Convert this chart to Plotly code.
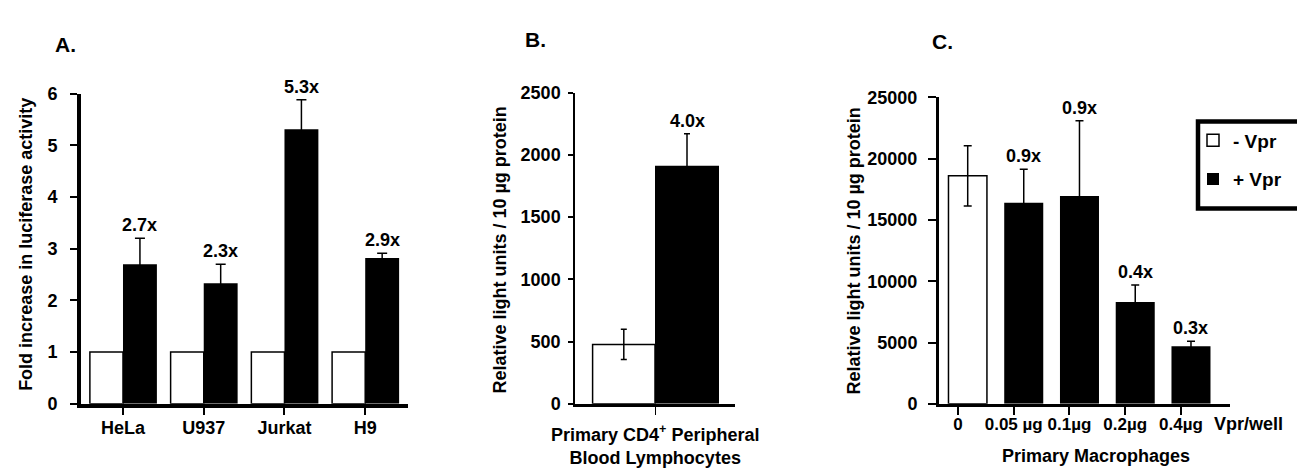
import plotly.graph_objects as go

# ---------------- data ----------------
# Panel A
cells = ["HeLa", "U937", "Jurkat", "H9"]
a_minus = [1.0, 1.0, 1.0, 1.0]
a_plus = [2.70, 2.33, 5.31, 2.82]
a_plus_err = [0.50, 0.37, 0.57, 0.09]
a_fold = ["2.7x", "2.3x", "5.3x", "2.9x"]
a_yticks = [0, 1, 2, 3, 4, 5, 6]

# Panel B
b_cat = ["PBL"]
b_minus = [477]
b_minus_err = [122]
b_plus = [1913]
b_plus_err = [256]
b_fold = ["4.0x"]
b_yticks = [0, 500, 1000, 1500, 2000, 2500]

# Panel C
c_cats = ["0", "0.05 µg", "0.1µg", "0.2µg", "0.4µg"]
c_minus_cat = ["0"]
c_minus = [18600]
c_minus_err = [2450]
c_plus_cat = ["0.05 µg", "0.1µg", "0.2µg", "0.4µg"]
c_plus = [16400, 16950, 8300, 4700]
c_plus_err = [2750, 6150, 1400, 400]
c_fold = ["0.9x", "0.9x", "0.4x", "0.3x"]
c_yticks = [0, 5000, 10000, 15000, 20000, 25000]
c_yticktext = ["0", "5000", "10000", "15000", "20000", "25000"]

legend_names = ["- Vpr", "+ Vpr"]

# ---------------- styling ----------------
W, H = 1305, 468
FONT = "Liberation Sans, Arial, Helvetica, sans-serif"
BLACK = "#000000"


def px(x):
    return x / W


def py(y):
    return 1 - y / H


def f(size):
    return dict(family=FONT, size=size, color=BLACK, weight="bold")


fig = go.Figure()

# ---- Panel A ----
fig.add_trace(go.Bar(x=cells, y=a_minus, width=0.41, offset=-0.41,
                     marker=dict(color="white", line=dict(color=BLACK, width=1.5)),
                     name=legend_names[0], legendgroup="m", showlegend=True,
                     xaxis="x", yaxis="y"))
fig.add_trace(go.Bar(x=cells, y=a_plus, width=0.42, offset=0.0,
                     marker=dict(color=BLACK, line=dict(color=BLACK, width=0)),
                     error_y=dict(type="data", array=a_plus_err, symmetric=True,
                                  color=BLACK, thickness=1.5, width=5),
                     name=legend_names[1], legendgroup="p", showlegend=True,
                     xaxis="x", yaxis="y"))

# ---- Panel B ----
fig.add_trace(go.Bar(x=b_cat, y=b_minus, width=0.39, offset=-0.39,
                     marker=dict(color="white", line=dict(color=BLACK, width=1.5)),
                     error_y=dict(type="data", array=b_minus_err, symmetric=True,
                                  color=BLACK, thickness=1.5, width=3),
                     showlegend=False, xaxis="x2", yaxis="y2"))
fig.add_trace(go.Bar(x=b_cat, y=b_plus, width=0.40, offset=0.0,
                     marker=dict(color=BLACK, line=dict(color=BLACK, width=0)),
                     error_y=dict(type="data", array=b_plus_err, symmetric=True,
                                  color=BLACK, thickness=1.5, width=3),
                     showlegend=False, xaxis="x2", yaxis="y2"))

# ---- Panel C ----
fig.add_trace(go.Bar(x=c_minus_cat, y=c_minus, width=0.69, offset=-0.17,
                     marker=dict(color="white", line=dict(color=BLACK, width=1.5)),
                     error_y=dict(type="data", array=c_minus_err, symmetric=True,
                                  color=BLACK, thickness=1.5, width=4),
                     showlegend=False, xaxis="x3", yaxis="y3"))
fig.add_trace(go.Bar(x=c_plus_cat, y=c_plus, width=0.70, offset=-0.17,
                     marker=dict(color=BLACK, line=dict(color=BLACK, width=0)),
                     error_y=dict(type="data", array=c_plus_err, symmetric=True,
                                  color=BLACK, thickness=1.5, width=4),
                     showlegend=False, xaxis="x3", yaxis="y3"))

# ---------------- axes ----------------
common_x = dict(showgrid=False, zeroline=False, ticks="outside", tickcolor=BLACK,
                linecolor=BLACK, showline=True, fixedrange=True)
common_y = dict(showgrid=False, zeroline=False, ticks="outside", tickcolor=BLACK,
                linecolor=BLACK, showline=True, fixedrange=True)

fig.update_layout(
    xaxis=dict(common_x, domain=[px(73), px(400)], anchor="y", type="category",
               categoryarray=cells, range=[-0.52, 3.53], linewidth=4, ticklen=7,
               tickwidth=1.5, tickfont=f(18), ticklabelstandoff=-2),
    yaxis=dict(common_y, domain=[py(403), py(79)], anchor="x", range=[0, 6],
               tickvals=a_yticks, linewidth=4, ticklen=7,
               tickwidth=1.5, tickfont=f(18), ticklabelstandoff=9),
    xaxis2=dict(common_x, domain=[px(567), px(727)], anchor="y2", type="category",
                range=[-0.5, 0.5], linewidth=3, ticklen=8, tickwidth=1,
                showticklabels=False),
    yaxis2=dict(common_y, domain=[py(403), py(78)], anchor="x2", range=[0, 2500],
                tickvals=b_yticks, linewidth=1.5, ticklen=5,
                tickwidth=1.5, tickfont=f(18), ticklabelstandoff=4),
    xaxis3=dict(common_x, domain=[px(931), px(1222)], anchor="y3", type="category",
                categoryarray=c_cats, range=[-0.34, 4.88], linewidth=3, ticklen=8,
                tickwidth=1.5, tickfont=f(17), ticklabelstandoff=-5),
    yaxis3=dict(common_y, domain=[py(403), py(83)], anchor="x3", range=[0, 25000],
                tickvals=c_yticks, ticktext=c_yticktext, linewidth=3, ticklen=8,
                tickwidth=1.5, tickfont=f(18), ticklabelstandoff=7),
)

# ---------------- annotations ----------------
ann = []
for i, (v, e, t) in enumerate(zip(a_plus, a_plus_err, a_fold)):
    ann.append(dict(x=i + 0.21, y=v + e, xref="x", yref="y", text=t, showarrow=False,
                    yanchor="bottom", yshift=1, font=f(18)))
ann.append(dict(x=0.2, y=b_plus[0] + b_plus_err[0], xref="x2", yref="y2", text=b_fold[0],
                showarrow=False, yanchor="bottom", yshift=1, font=f(18)))
for i, (v, e, t) in enumerate(zip(c_plus, c_plus_err, c_fold)):
    ann.append(dict(x=i + 1 + 0.18, y=v + e, xref="x3", yref="y3", text=t, showarrow=False,
                    yanchor="bottom", yshift=1, font=f(18)))

for txt, x, y in [("A.", 57, 28), ("B.", 527, 22), ("C.", 934, 25)]:
    ann.append(dict(x=px(x), y=py(y), xref="paper", yref="paper", text=txt,
                    showarrow=False, xanchor="center", yanchor="middle", font=f(21)))

ann.append(dict(x=px(18), y=py(237), xref="paper", yref="paper",
                text="Fold increase in luciferase activity", textangle=-90,
                showarrow=False, xanchor="center", yanchor="middle", font=f(18)))
ann.append(dict(x=px(492), y=py(243), xref="paper", yref="paper",
                text="Relative light units / 10 µg protein", textangle=-90,
                showarrow=False, xanchor="center", yanchor="middle", font=f(18)))
ann.append(dict(x=px(846), y=py(244), xref="paper", yref="paper",
                text="Relative light units / 10 µg protein", textangle=-90,
                showarrow=False, xanchor="center", yanchor="middle", font=f(18)))
ann.append(dict(x=px(647), y=py(446), xref="paper", yref="paper",
                text="Primary CD4<sup>+</sup> Peripheral<br>Blood Lymphocytes",
                showarrow=False, xanchor="center", yanchor="middle", font=f(18)))
ann.append(dict(x=px(1088), y=py(458), xref="paper", yref="paper",
                text="Primary Macrophages",
                showarrow=False, xanchor="center", yanchor="middle", font=f(18)))
ann.append(dict(x=px(1240), y=py(424), xref="paper", yref="paper",
                text="Vpr/well",
                showarrow=False, xanchor="center", yanchor="middle", font=f(18)))

fig.update_layout(
    annotations=ann,
    shapes=[dict(type="rect", xref="paper", yref="paper",
                 x0=px(1190), x1=px(1297), y0=py(199), y1=py(108),
                 line=dict(color=BLACK, width=4.5), fillcolor="rgba(0,0,0,0)")],
    legend=dict(x=px(1185), y=py(108), xanchor="left", yanchor="top",
                bgcolor="rgba(0,0,0,0)", borderwidth=0, font=f(19),
                tracegroupgap=11, traceorder="grouped"),
    barmode="overlay",
    width=W, height=H,
    margin=dict(l=0, r=0, t=0, b=0),
    paper_bgcolor="white", plot_bgcolor="white",
    font=f(18),
    showlegend=True,
)

fig.write_html("out.html", config={"displayModeBar": False})
